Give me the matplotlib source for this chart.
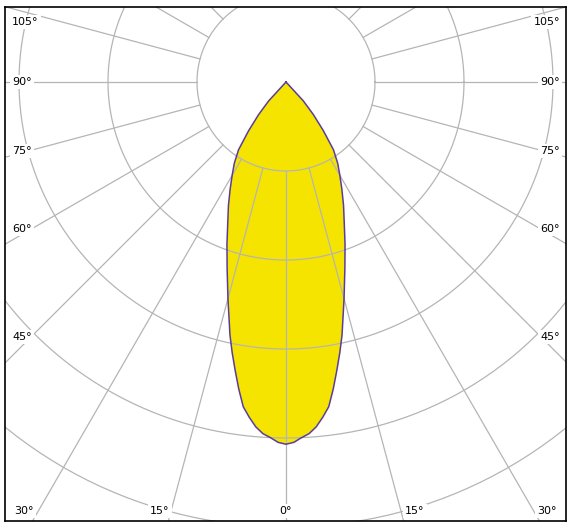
import numpy as np
import matplotlib
matplotlib.use("Agg")
import matplotlib.pyplot as plt

# Lichtstärkeverteilung (cd/klm), symmetrisch, Winkel von unten (0°) gemessen
winkel = [0, 1.25, 2.5, 3.75, 5, 6.25, 7.5, 8.75, 10, 11.25, 12.5, 15, 17.5,
          20, 22.5, 25, 27.5, 30, 32.5, 35, 37.5, 40, 42.5, 45]
intensitaet = [407, 405, 400, 396, 389, 379, 368, 349, 329, 310, 291, 252,
               220, 194, 171, 153, 136, 121, 108, 93, 69, 48, 29, 0]

ring_werte = [100, 200, 300, 400, 500, 600]
strahl_winkel = list(range(0, 360, 15))

seiten_labels = ["105°", "90°", "75°", "60°", "45°"]
unten_labels = ["30°", "15°", "0°", "15°", "30°"]

W, H = 574, 531
px = 0.89  # Pixel pro cd/klm
cx, cy = 286, 82  # Mittelpunkt in Pixeln

fig = plt.figure(figsize=(W / 100, H / 100), dpi=100)
ax = fig.add_axes([5 / W, 10 / H, 561 / W, 514 / H])
ax.set_xlim((5 - cx) / px, (566 - cx) / px)
ax.set_ylim((cy - 521) / px, (cy - 7) / px)
ax.set_aspect("equal")
ax.set_xticks([])
ax.set_yticks([])
for s in ax.spines.values():
    s.set_linewidth(1.2)
    s.set_color("black")

# Kurve: linke und rechte Hälfte
th = np.radians(winkel)
r = np.array(intensitaet, dtype=float)
xr = r * np.sin(th)
yr = -r * np.cos(th)
xs = np.concatenate([xr[::-1], -xr[1:]])
ys = np.concatenate([yr[::-1], yr[1:]])

ax.fill(xs, ys, color="#f5e400", zorder=1, lw=0)

grau = "#b5b5b5"
t = np.linspace(0, 2 * np.pi, 400)
for rv in ring_werte:
    ax.plot(rv * np.cos(t), rv * np.sin(t), color=grau, lw=0.9, zorder=2)
r0 = ring_werte[0]
for a in strahl_winkel:
    ar = np.radians(a)
    ax.plot([r0 * np.sin(ar), 2000 * np.sin(ar)],
            [-r0 * np.cos(ar), -2000 * np.cos(ar)], color=grau, lw=0.9, zorder=2)

ax.plot(xs, ys, color="#5a3d9a", lw=1.1, zorder=3, solid_joinstyle="round")

box = dict(facecolor="white", edgecolor="none", pad=1.5)
seiten_y = [22, 82, 151, 229, 337]
for lab, yy in zip(seiten_labels, seiten_y):
    yd = (cy - yy) / px
    ax.text((12 - cx) / px, yd, lab, ha="left", va="center", fontsize=8,
            bbox=box, zorder=4)
    ax.text((560 - cx) / px, yd, lab, ha="right", va="center", fontsize=8,
            bbox=box, zorder=4)

unten_x = [14, 160, 286, 415, 557]
unten_ha = ["left", "center", "center", "center", "right"]
for lab, xx, h in zip(unten_labels, unten_x, unten_ha):
    ax.text((xx - cx) / px, (cy - 511) / px, lab, ha=h, va="center",
            fontsize=8, bbox=box, zorder=4)

fig.savefig("out.png", dpi=100)
